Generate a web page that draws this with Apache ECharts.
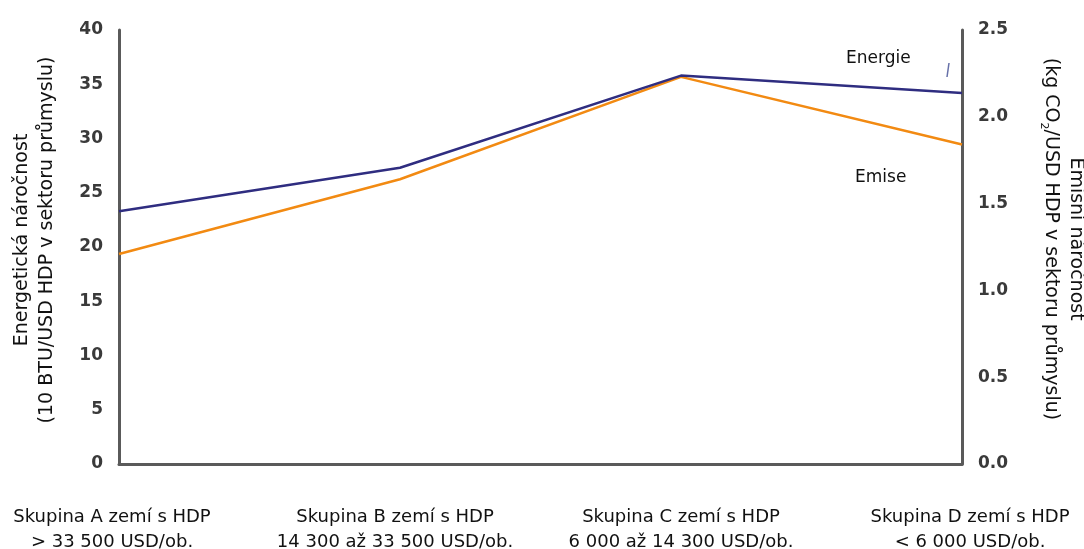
<!DOCTYPE html>
<html>
<head>
<meta charset="utf-8">
<script src="https://cdn.jsdelivr.net/npm/echarts@6/dist/echarts.min.js"></script>
<style>html,body{margin:0;padding:0;background:#fff}#c{width:1084px;height:549px}</style>
</head>
<body>
<div id="c"></div>
<script>
const categories = [
  'Skupina A zemí s HDP\n> 33 500 USD/ob.',
  'Skupina B zemí s HDP\n14 300 až 33 500 USD/ob.',
  'Skupina C zemí s HDP\n6 000 až 14 300 USD/ob.',
  'Skupina D zemí s HDP\n< 6 000 USD/ob.'
];
const energie = [23.3, 27.3, 35.8, 34.2];
const emise = [1.21, 1.64, 2.23, 1.84];
const leftTicks = [0, 5, 10, 15, 20, 25, 30, 35, 40];
const rightTicks = [0.0, 0.5, 1.0, 1.5, 2.0, 2.5];

const axisLineStyle = { color: '#5a5a5a', width: 3 };
const tickFont = { color: '#3a3a3a', fontFamily: 'DejaVu Sans', fontWeight: 'bold', fontSize: 17 };
const nameFont = { color: '#111', fontFamily: 'DejaVu Sans', fontSize: 19, lineHeight: 25 };

const catRich = {
  p0: { fontFamily: 'DejaVu Sans', fontSize: 18, color: '#111', lineHeight: 25, padding: [0, 14, 0, 0] },
  p1: { fontFamily: 'DejaVu Sans', fontSize: 18, color: '#111', lineHeight: 25, padding: [0, 10, 0, 0] },
  p2: { fontFamily: 'DejaVu Sans', fontSize: 18, color: '#111', lineHeight: 25 },
  p3: { fontFamily: 'DejaVu Sans', fontSize: 18, color: '#111', lineHeight: 25, padding: [0, 0, 0, 16] }
};

const chart = echarts.init(document.getElementById('c'));
chart.setOption({
  animation: false,
  backgroundColor: '#fff',
  grid: { left: 119, right: 122, top: 30, bottom: 85, containLabel: false, outerBoundsMode: 'none' },
  xAxis: {
    type: 'category',
    data: categories,
    boundaryGap: false,
    axisLine: { lineStyle: axisLineStyle },
    axisTick: { show: false },
    axisLabel: {
      color: '#111', fontFamily: 'DejaVu Sans', fontSize: 18, lineHeight: 25, margin: 41, interval: 0,
      formatter: (v, i) => v.split('\n').map(l => '{p' + i + '|' + l + '}').join('\n'),
      rich: catRich
    }
  },
  yAxis: [
    {
      type: 'value', min: 0, max: 40, interval: 5,
      name: 'Energetická náročnost\n(10 BTU/USD HDP v sektoru průmyslu)',
      nameLocation: 'middle', nameGap: 59, nameRotate: 90,
      nameTextStyle: Object.assign({ padding: [0, 0, 0, 14] }, nameFont),
      axisLine: { show: true, lineStyle: axisLineStyle },
      axisTick: { show: false },
      splitLine: { show: false },
      axisLabel: Object.assign({ margin: 16, customValues: leftTicks }, tickFont)
    },
    {
      type: 'value', min: 0, max: 2.5, interval: 0.5,
      name: 'Emisní náročnost\n{n|(kg CO}{s|2}{n|/USD HDP v sektoru průmyslu)}',
      nameLocation: 'middle', nameGap: 76, nameRotate: -90,
      nameTextStyle: Object.assign({ padding: [0, 16, 0, 0] }, nameFont, {
        rich: {
          n: { fontFamily: 'DejaVu Sans', fontSize: 19, color: '#111', lineHeight: 25 },
          s: { fontFamily: 'DejaVu Sans', fontSize: 11, color: '#111', verticalAlign: 'bottom', padding: [9, 0, 0, 0] }
        }
      }),
      axisLine: { show: true, lineStyle: axisLineStyle },
      axisTick: { show: false },
      splitLine: { show: false },
      axisLabel: Object.assign({ margin: 16, customValues: rightTicks, formatter: v => v.toFixed(1) }, tickFont)
    }
  ],
  series: [
    {
      name: 'Energie', type: 'line', yAxisIndex: 0, data: energie,
      symbol: 'none', lineStyle: { color: '#2f2d80', width: 2.5 }, z: 3
    },
    {
      name: 'Emise', type: 'line', yAxisIndex: 1, data: emise,
      symbol: 'none', lineStyle: { color: '#f28a12', width: 2.5 }, z: 2
    }
  ],
  graphic: [
    { type: 'text', left: 846, top: 50, style: { text: 'Energie', font: '17px "DejaVu Sans"', fill: '#111' } },
    { type: 'text', left: 855, top: 169, style: { text: 'Emise', font: '17px "DejaVu Sans"', fill: '#111' } },
    { type: 'line', shape: { x1: 949, y1: 63, x2: 947, y2: 77 }, style: { stroke: '#6670a8', lineWidth: 1.5 } }
  ]
});
</script>
</body>
</html>
